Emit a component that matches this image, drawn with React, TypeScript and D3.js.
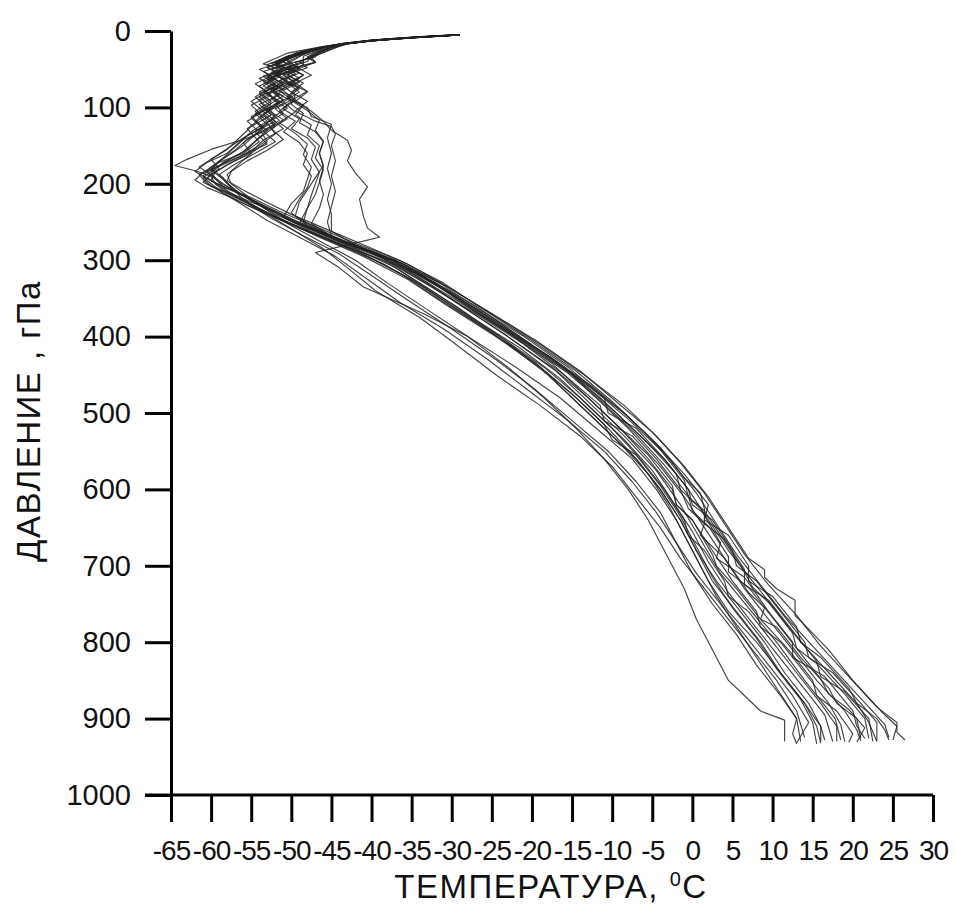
import React, { useEffect, useRef } from 'react';
import * as d3 from 'd3';

// axis ticks
const tempTicks = [-65, -60, -55, -50, -45, -40, -35, -30, -25, -20, -15, -10, -5, 0, 5, 10, 15, 20, 25, 30];
const pressureTicks = [0, 100, 200, 300, 400, 500, 600, 700, 800, 900, 1000];

// soundings: [pressure hPa, temperature C]
const P01 = [[5,-29],[8,-34],[12,-39.5],[16,-43],[20,-45.5],[25,-47.5],[30,-49],[36,-50.5],[44,-52],[52,-50],[60,-52.5],[70,-51],[82,-53],[95,-51.5],[110,-53.5],[125,-52],[140,-54],[155,-55.5],[170,-58],[185,-60.5],[198,-59],[212,-56.5],[232,-53],[250,-49.8],[275,-44],[300,-37.5],[330,-33],[365,-28],[400,-23],[445,-17],[490,-12.5],[530,-8.5],[575,-4.5],[620,-1.5],[665,1],[710,3.5],[755,7],[800,10.5],[850,14],[900,17.8],[928,18.5]];
const P02 = [[6,-31],[9,-35.5],[13,-40.5],[17,-44],[22,-46.5],[28,-48.5],[34,-50],[40,-51.5],[48,-53],[56,-51],[66,-53.5],[78,-52],[90,-54],[105,-53],[118,-54.5],[130,-53],[142,-56],[155,-60],[168,-63],[176,-64.5],[183,-62],[190,-60],[200,-59.5],[212,-58],[228,-55],[250,-50.5],[275,-45],[300,-38.5],[330,-34],[360,-29.5],[400,-24],[440,-19],[480,-15],[520,-11],[560,-7],[600,-4],[640,-1.5],[680,0.5],[720,2.5],[760,5.5],[800,8.5],[840,11],[880,14],[910,15.5],[932,16]];
const P03 = [[5,-29.5],[8,-34.5],[12,-40],[16,-43.5],[21,-46],[27,-48.5],[33,-50],[40,-51],[47,-49.5],[55,-52],[64,-50.5],[74,-52.5],[85,-50],[96,-52],[108,-51],[120,-53],[135,-52],[150,-54],[165,-56.5],[180,-59.5],[192,-61],[203,-60],[215,-57],[235,-52.5],[255,-48.5],[280,-42.5],[305,-36],[335,-31.5],[370,-26.5],[410,-20.5],[450,-15],[495,-10],[540,-5.5],[580,-2],[600,-1.5],[625,1],[670,3.5],[690,3],[715,6.5],[760,9.5],[800,12.5],[820,12.5],[845,16.5],[890,20],[910,20.5],[926,21.5]];
const P04 = [[5,-29],[8,-34],[12,-39.5],[16,-43],[21,-45],[27,-46.5],[33,-47.5],[40,-48],[48,-50.5],[56,-49.5],[65,-51.5],[75,-49],[88,-50.5],[100,-48],[112,-47.5],[122,-45],[140,-45.5],[160,-45],[180,-45.5],[200,-45],[220,-45.5],[240,-45],[262,-45],[280,-42],[300,-37],[330,-31.5],[365,-26.5],[400,-21],[440,-15.5],[480,-11],[500,-10.5],[520,-7],[560,-3.5],[600,-0.5],[640,2],[680,4.5],[720,7.5],[760,10.5],[800,13.5],[840,17],[880,20.5],[905,22],[930,23]];
const P05 = [[7,-33],[10,-37.5],[14,-41.5],[19,-45],[24,-47],[30,-48.5],[37,-49.5],[45,-51],[53,-53.5],[62,-52],[72,-54],[84,-52.5],[97,-55],[112,-53.5],[128,-55.5],[145,-54],[160,-56],[172,-59],[185,-61],[195,-62],[205,-60.5],[218,-57.5],[238,-53.5],[258,-49],[280,-44],[305,-38.5],[335,-33.5],[370,-28.5],[410,-23],[450,-18],[495,-13.5],[540,-9],[580,-5.5],[620,-3],[660,-1],[700,1],[740,3],[780,5.5],[820,8],[860,10.5],[900,13],[930,13.5]];
const P06 = [[5,-30],[8,-35],[12,-40],[17,-43.5],[22,-44.5],[28,-46],[34,-47.5],[40,-49],[48,-48],[57,-50.5],[67,-49],[78,-51],[90,-49.5],[102,-51],[115,-49],[128,-50],[140,-48],[152,-47],[168,-47.5],[185,-46.5],[200,-47],[215,-47.5],[232,-48],[250,-48.5],[270,-45],[290,-40],[315,-35],[345,-30],[380,-25],[420,-19],[460,-13.5],[500,-8.5],[540,-4.5],[580,-1],[620,2],[640,1.5],[660,4.5],[700,7],[720,7],[740,10],[780,13],[800,13.5],[820,16],[860,19.5],[880,20.5],[900,23],[915,24],[928,24.5]];
const P07 = [[5,-29],[8,-34],[12,-39],[17,-43.5],[22,-46.5],[28,-49],[35,-51],[42,-50],[50,-52.5],[60,-51.5],[72,-53.5],[85,-51],[98,-53],[112,-52],[128,-54],[145,-53],[160,-55],[175,-58],[188,-60],[200,-58.5],[210,-57],[225,-54.5],[245,-50.5],[265,-46],[290,-40],[320,-34.5],[355,-29],[395,-23],[435,-17.5],[475,-13.5],[515,-9.5],[555,-5.5],[595,-2.5],[620,-2],[640,0],[685,2.5],[700,3],[730,5.5],[770,8.5],[810,12],[850,15],[870,15.5],[890,18],[920,20],[931,19.5]];
const P08 = [[5,-29],[9,-35],[13,-40],[17,-43],[22,-44.5],[28,-46],[35,-47.5],[42,-50],[50,-49],[58,-51],[68,-49.5],[80,-52],[92,-50],[105,-51.5],[118,-49.5],[132,-51],[146,-49],[160,-48],[175,-48.5],[190,-47.5],[205,-48],[220,-49],[238,-50],[255,-48],[275,-43.5],[300,-37],[330,-32],[360,-27.5],[400,-21.5],[440,-16],[480,-12],[520,-8],[560,-4.5],[600,-1.5],[625,-0.5],[645,1.5],[660,1],[690,4],[735,7],[755,9],[770,8.5],[780,10.5],[820,13.5],[860,17],[880,18],[900,20.5],[926,21]];
const P09 = [[6,-30.5],[9,-35.5],[13,-40],[18,-44],[23,-47],[29,-49.5],[36,-51],[44,-53],[52,-51.5],[62,-54],[73,-52],[86,-54.5],[100,-53],[114,-55],[128,-53.5],[142,-55.5],[156,-57],[170,-59],[182,-60],[194,-58.5],[208,-57],[222,-55],[240,-52],[260,-47.5],[285,-42],[310,-37],[340,-32.5],[375,-27.5],[415,-21.5],[455,-16.5],[495,-12.5],[535,-8.5],[575,-5],[615,-2.5],[655,0],[695,2],[735,4.5],[775,7.5],[815,10.5],[855,13.5],[895,16.5],[930,17.5]];
const P10 = [[5,-29.5],[8,-34.5],[12,-39.5],[17,-43.5],[22,-45],[28,-46.5],[34,-47],[41,-49.5],[49,-49],[58,-50.5],[68,-48.5],[80,-50],[92,-48],[105,-49.5],[118,-47],[125,-45],[135,-44.5],[150,-45],[170,-44.5],[190,-45],[210,-44.5],[230,-45],[250,-45.5],[268,-45],[285,-41],[305,-36],[335,-30.5],[370,-25],[410,-19],[450,-13.5],[490,-8.5],[530,-4.5],[570,-1],[610,2],[650,4.5],[690,7],[705,9],[715,9],[730,10.5],[745,12.8],[765,12.8],[772,13.5],[810,17],[850,20],[890,23.5],[910,25.5],[928,25]];
const P11 = [[5,-29],[8,-34],[12,-39.5],[16,-43],[21,-46],[26,-48],[32,-50],[38,-51.5],[46,-50],[54,-52.5],[63,-51],[73,-53],[84,-51.5],[96,-54],[110,-52.5],[125,-55],[140,-56.5],[155,-58],[168,-60],[178,-61.5],[188,-60],[198,-61],[210,-58.5],[225,-55.5],[245,-51.5],[268,-46.5],[292,-41],[320,-36],[355,-31],[395,-25],[435,-19.5],[475,-15],[515,-11],[535,-10],[555,-7],[595,-4],[635,-1.5],[675,0.5],[715,2.5],[755,5],[795,8],[835,10.5],[875,13.5],[905,15],[933,15.5]];
const P12 = [[5,-29],[8,-34],[12,-39.5],[16,-43],[20,-44.5],[25,-46],[31,-47],[38,-48.5],[45,-48.5],[53,-50.5],[62,-49],[72,-51],[84,-49.5],[96,-50],[108,-48.5],[120,-49],[132,-47],[145,-46],[160,-46.5],[178,-46],[196,-46.5],[214,-46],[232,-46.5],[252,-47.5],[272,-44.5],[295,-39],[320,-34],[350,-29],[385,-24],[425,-18],[465,-12.5],[505,-8],[545,-4],[585,-1],[605,1],[625,1.5],[645,1.5],[665,4],[705,6.5],[725,6.5],[745,9.5],[785,12.5],[825,15.5],[845,16],[865,19],[900,22],[930,22.5]];
const P13 = [[6,-31],[9,-35.5],[13,-40.5],[18,-44.5],[23,-47.5],[29,-50.5],[36,-52],[43,-53.5],[51,-51],[60,-53],[70,-51.5],[82,-54],[95,-52.5],[108,-54.5],[122,-53],[137,-55.5],[152,-57],[166,-58.5],[180,-60],[192,-58.5],[205,-57.5],[220,-56],[240,-53],[262,-49.5],[285,-46],[310,-43],[340,-39.5],[375,-34],[410,-29.5],[450,-24.5],[490,-19],[530,-14],[570,-10],[610,-7],[650,-4],[690,-1.5],[730,1.5],[770,4.5],[810,7.5],[850,10.5],[890,13],[925,14]];
const P14 = [[5,-29],[8,-34],[12,-39],[16,-42.5],[21,-45.5],[27,-47.5],[33,-49],[40,-50.5],[48,-49],[57,-51],[67,-49.5],[78,-51.5],[90,-50],[102,-52],[115,-50.5],[128,-52.5],[142,-51],[156,-53],[170,-55.5],[184,-57.5],[196,-58],[208,-56],[222,-53.5],[240,-50],[260,-45.5],[282,-40.5],[305,-35.5],[335,-30.5],[370,-25],[405,-19.5],[445,-14],[485,-9.5],[525,-5],[565,-1.5],[605,1.5],[645,4],[685,6.5],[725,9.5],[765,13],[805,16],[845,19.5],[885,23],[905,25.5],[918,25.5],[928,26.5]];
const P15 = [[5,-29.5],[8,-34],[12,-39.5],[17,-43.5],[22,-46],[28,-48],[35,-50.5],[42,-52],[50,-50.5],[59,-53],[69,-51],[80,-53.5],[92,-51.5],[105,-53.5],[118,-52],[132,-54.5],[148,-53],[162,-56],[176,-59],[188,-61.5],[200,-60.5],[212,-58.5],[228,-55.5],[248,-51],[270,-46],[295,-40.5],[325,-35],[360,-30],[400,-24],[440,-18.5],[480,-14],[520,-10],[560,-6.5],[600,-3.5],[640,-1],[660,-0.5],[680,1.5],[720,4],[740,4.5],[760,7],[800,10],[840,13],[880,16],[910,18],[930,18]];
const P16 = [[5,-29],[8,-34],[12,-39.5],[16,-43],[21,-45],[27,-46.5],[34,-47.5],[41,-47],[49,-50],[58,-48.5],[68,-50.5],[80,-49],[93,-51],[106,-49.5],[120,-51.5],[134,-49.5],[148,-48],[162,-48.5],[178,-47.5],[194,-48],[210,-48.5],[226,-50],[244,-51],[262,-47.5],[282,-43],[305,-37.5],[335,-32.5],[370,-27],[410,-21],[450,-16],[490,-11.5],[510,-11],[530,-7.5],[570,-4],[610,-1],[650,1.5],[690,4],[730,6.5],[770,9.5],[810,12.5],[850,15.5],[890,19],[915,20.5],[929,21]];
const P17 = [[7,-32.5],[10,-37],[14,-41],[19,-44.5],[24,-47],[30,-49],[37,-50.5],[45,-52],[54,-50.5],[63,-53],[74,-51.5],[86,-54],[99,-52.5],[112,-55],[126,-53.5],[140,-56],[154,-58],[168,-60],[180,-59],[192,-60.5],[203,-59],[215,-57],[232,-54],[252,-50.5],[275,-46.5],[300,-42],[330,-38],[365,-33],[400,-28],[440,-23],[480,-18.5],[520,-14.5],[560,-11],[600,-8],[640,-5.5],[690,-3],[730,-1],[770,0.5],[810,2.5],[850,4.5],[875,7],[890,8.5],[902,11.5],[930,11.5]];
const P18 = [[6,-30],[9,-35],[13,-40],[17,-43],[22,-45],[28,-46.5],[34,-48],[41,-47],[49,-49],[58,-47.5],[68,-49.5],[79,-48],[91,-50],[104,-48],[117,-46.5],[130,-47],[144,-46],[160,-46.5],[176,-46],[192,-47],[208,-48],[224,-49],[242,-49.5],[260,-46.5],[280,-42.5],[300,-37.5],[330,-32],[360,-27],[400,-21.5],[440,-16],[480,-11.5],[520,-7.5],[560,-3.5],[600,-0.5],[620,0],[640,2.5],[680,5],[700,5.5],[720,8],[760,11],[800,14],[820,14.5],[840,17.5],[880,21],[905,23],[929,23]];
const P19 = [[5,-29],[8,-34],[12,-39.5],[17,-43.5],[22,-46.5],[28,-48.5],[35,-50.5],[43,-52],[51,-50],[60,-52.5],[70,-51],[82,-53],[95,-51],[108,-53.5],[122,-52],[136,-54.5],[150,-56],[164,-58],[178,-60],[190,-61],[200,-60],[212,-58.5],[228,-56],[248,-53],[270,-49],[295,-44.5],[325,-40.5],[355,-36.5],[390,-31],[430,-25.5],[470,-20.5],[510,-15.5],[550,-11],[590,-7.5],[630,-4.5],[670,-2],[710,0.5],[750,3.5],[790,6.5],[830,9.5],[870,12.5],[905,14.5],[932,13]];
const P20 = [[5,-29],[8,-34],[12,-39.5],[16,-43],[21,-46],[27,-48],[33,-49.5],[40,-51],[48,-53],[56,-51.5],[66,-53],[77,-51],[89,-52.5],[101,-50.5],[114,-52.5],[128,-51],[143,-53.5],[158,-55],[172,-57.5],[185,-59.5],[196,-60],[206,-58],[218,-55.5],[236,-52],[256,-48],[278,-43],[302,-37],[332,-32],[368,-27],[408,-21],[448,-15.5],[488,-11],[528,-7],[568,-3.5],[608,-0.5],[628,0],[648,2],[688,4.5],[708,4.5],[728,7],[768,10],[808,13],[848,16],[868,17],[888,19.5],[912,21.5],[931,20.5]];
const P21 = [[6,-30.5],[9,-35],[13,-40.5],[18,-44],[23,-46.5],[29,-48.5],[35,-50],[42,-51.5],[50,-54],[59,-52.5],[69,-54.5],[80,-53],[92,-55],[105,-53.5],[118,-55.5],[132,-54],[146,-56],[160,-55],[174,-56.5],[188,-58],[200,-57.5],[212,-56],[228,-54],[248,-51],[270,-46.5],[295,-41],[325,-35.5],[360,-30.5],[400,-24.5],[440,-19],[480,-14.5],[520,-10.5],[560,-7],[600,-4],[640,-1.5],[680,0.5],[720,3],[760,6],[800,9],[840,11.5],[880,14.5],[910,16],[930,16]];
const P22 = [[5,-29],[8,-34],[12,-39.5],[17,-43.5],[22,-45],[28,-47],[34,-48],[41,-47],[49,-50],[58,-48.5],[68,-50],[80,-48],[92,-49.5],[105,-47.5],[118,-46],[130,-45],[143,-43],[156,-42.5],[170,-43],[186,-42],[204,-40.5],[220,-41.5],[243,-41],[258,-40.5],[270,-39],[280,-43],[290,-47],[310,-44],[335,-41],[370,-33.5],[400,-28],[440,-22],[480,-16.5],[520,-12],[560,-7.5],[600,-4.5],[640,-2],[680,0],[720,2],[760,4.5],[800,8],[840,11],[880,14],[910,16],[928,16.5]];
const P23 = [[5,-29.5],[8,-34.5],[12,-40],[16,-43.5],[21,-46.5],[27,-48.5],[34,-50.5],[41,-52],[49,-50.5],[58,-52],[68,-50],[79,-52.5],[91,-51],[104,-53],[117,-51.5],[131,-53.5],[145,-52],[160,-54.5],[174,-57],[188,-59],[200,-58],[212,-56.5],[228,-53.5],[248,-49.5],[268,-45],[290,-39.5],[318,-34],[350,-29],[388,-23.5],[428,-17.5],[468,-12.5],[508,-8],[548,-4],[588,-1],[610,-0.5],[628,1.5],[668,4],[708,6.5],[728,7.5],[748,9.5],[788,12.5],[808,13],[828,15.5],[868,19],[900,21.5],[926,22]];
const P24 = [[5,-29],[8,-34],[12,-39.5],[16,-43.5],[21,-45.5],[27,-47],[33,-48.5],[40,-48.5],[47,-50.5],[55,-49],[64,-51],[74,-49],[85,-50.5],[97,-48.5],[110,-49.5],[123,-47.5],[136,-48],[150,-46.5],[166,-47],[182,-46],[198,-46.5],[214,-47],[232,-48],[252,-49],[274,-44.5],[298,-38.5],[328,-33.5],[362,-28.5],[400,-23],[440,-17.5],[480,-13],[520,-9],[560,-5.5],[600,-2.5],[620,-2],[640,0],[680,2.5],[720,5],[760,8],[780,8.5],[800,11],[840,14],[880,17],[908,18.5],[930,19]];
const P25 = [[6,-30.5],[9,-35],[13,-40],[17,-43.5],[22,-46],[28,-48],[35,-50],[42,-52.5],[50,-51],[59,-53.5],[69,-52],[80,-54],[92,-52.5],[105,-54.5],[118,-53],[132,-55],[146,-56.5],[160,-58],[172,-60.5],[184,-62],[196,-60],[206,-58],[218,-55],[236,-51.5],[256,-47],[278,-42],[300,-36.5],[330,-31],[365,-26],[405,-20],[445,-14.5],[485,-10],[525,-6],[565,-2.5],[605,0.5],[645,3],[685,5.5],[725,8.5],[765,11.5],[805,15],[845,18.5],[885,22],[908,24],[925,24.5]];
const P26 = [[5,-29],[8,-34],[12,-39],[16,-43],[21,-46],[27,-48.5],[33,-50.5],[40,-52],[48,-50],[57,-52],[67,-50.5],[78,-52.5],[90,-51],[103,-53],[116,-51],[130,-53],[144,-54.5],[158,-56],[172,-58.5],[186,-60],[198,-59],[210,-58],[225,-55.5],[245,-52.5],[268,-48.5],[292,-44],[320,-40],[352,-35.5],[390,-30],[430,-24.5],[470,-19.5],[510,-15],[550,-10.5],[590,-7],[630,-4],[670,-2],[710,0],[750,2.5],[790,5.5],[830,8],[870,11],[900,13],[920,12.5],[933,13]];

const soundings = [P01, P02, P03, P04, P05, P06, P07, P08, P09, P10, P11, P12, P13, P14, P15, P16, P17, P18, P19, P20, P21, P22, P23, P24, P25, P26];

export default function App() {
  const svgRef = useRef(null);

  useEffect(() => {
    const svg = d3.select(svgRef.current);
    svg.selectAll('*').remove();

    const x = d3.scaleLinear().domain([-65, 30]).range([171, 933]);
    const y = d3.scaleLinear().domain([0, 1000]).range([31, 795]);
    const font = '"Liberation Sans", Arial, sans-serif';

    // profiles
    const line = d3.line().x(d => x(d[1])).y(d => y(d[0]));
    svg.append('g')
      .selectAll('path')
      .data(soundings)
      .enter().append('path')
      .attr('d', line)
      .attr('fill', 'none')
      .attr('stroke', '#222')
      .attr('stroke-opacity', 0.85)
      .attr('stroke-width', 1.15)
      .attr('stroke-linejoin', 'round');

    // y axis
    const yAxis = d3.axisLeft(y).tickValues(pressureTicks).tickFormat(d => String(d))
      .tickSize(26).tickSizeOuter(0).tickPadding(14);
    const yg = svg.append('g').attr('transform', 'translate(171,0)').call(yAxis);
    yg.select('.domain').attr('stroke-width', 3);
    yg.selectAll('.tick line').attr('stroke-width', 3);
    yg.selectAll('.tick text')
      .attr('font-size', 29)
      .attr('font-family', font)
      .attr('fill', '#111');

    // x axis
    const xAxis = d3.axisBottom(x).tickValues(tempTicks).tickFormat(d => String(d))
      .tickSize(27).tickSizeOuter(0).tickPadding(18);
    const xg = svg.append('g').attr('transform', 'translate(0,795)').call(xAxis);
    xg.select('.domain').attr('stroke-width', 3).attr('d', `M145,0H${x(30)}`);
    xg.selectAll('.tick line').attr('stroke-width', 3);
    xg.selectAll('.tick text')
      .attr('font-size', 28)
      .attr('font-family', font)
      .attr('letter-spacing', -1)
      .attr('fill', '#111');

    // titles
    const xt = svg.append('text')
      .attr('x', 551)
      .attr('y', 898)
      .attr('text-anchor', 'middle')
      .attr('font-size', 33)
      .attr('letter-spacing', 1.5)
      .attr('font-family', font)
      .attr('fill', '#111');
    xt.append('tspan').text('ТЕМПЕРАТУРА, ');
    xt.append('tspan').attr('font-size', 20).attr('dy', -12).text('0');
    xt.append('tspan').attr('dy', 12).text('C');

    svg.append('text')
      .attr('transform', 'translate(40,421) rotate(-90)')
      .attr('text-anchor', 'middle')
      .attr('font-size', 33)
      .attr('letter-spacing', 1.5)
      .attr('font-family', font)
      .attr('fill', '#111')
      .text('ДАВЛЕНИЕ , гПа');
  }, []);

  return (
    <svg
      ref={svgRef}
      width="955"
      height="904"
      style={{ position: 'absolute', left: 0, top: 0, background: '#fff' }}
    />
  );
}
